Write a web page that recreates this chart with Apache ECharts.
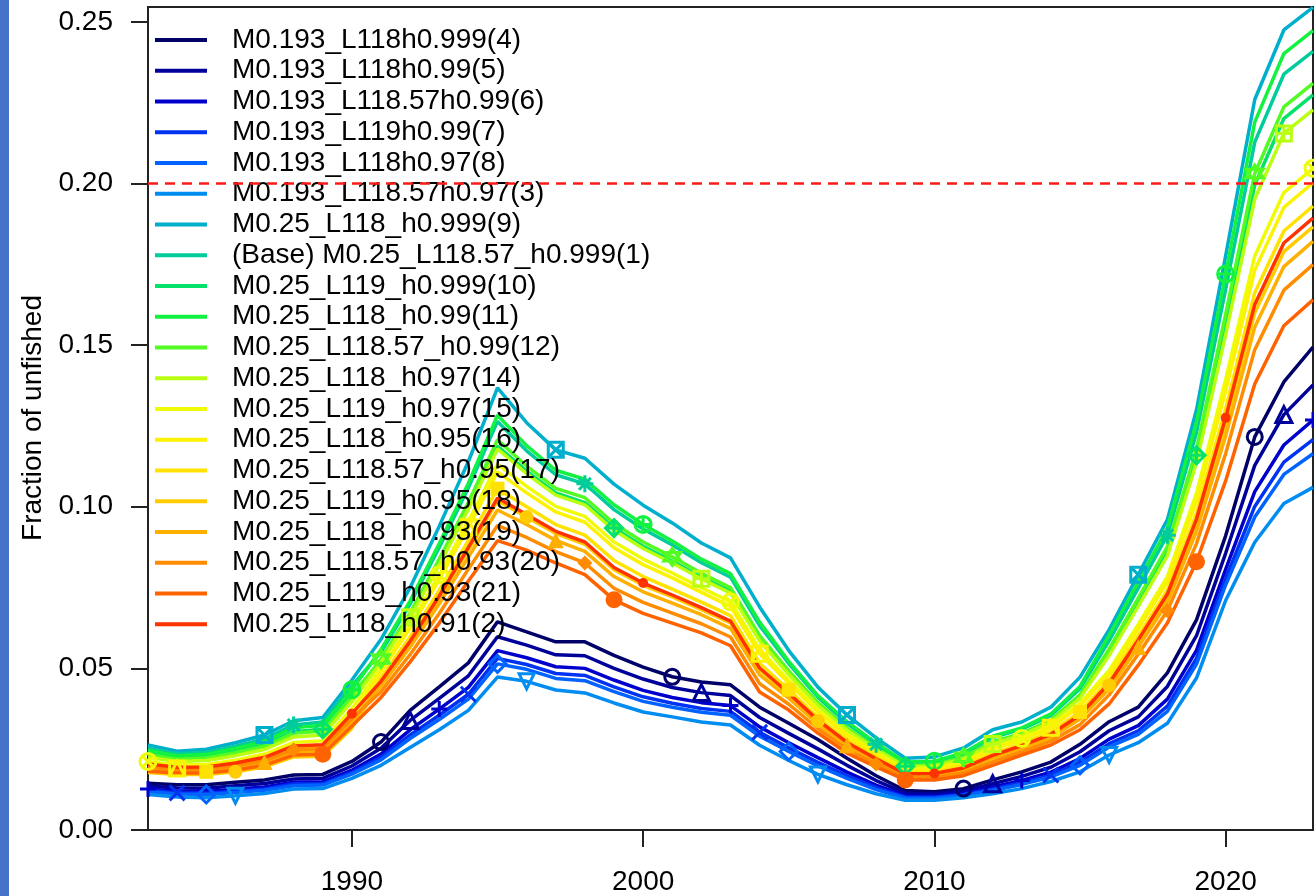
<!DOCTYPE html>
<html><head><meta charset="utf-8">
<script src="https://cdn.jsdelivr.net/npm/echarts@6/dist/echarts.min.js"></script>
<style>html,body{margin:0;padding:0;background:#fff;}#c{width:1314px;height:896px;}</style>
</head><body><div id="c"></div>
<script>
const years = [1983,1984,1985,1986,1987,1988,1989,1990,1991,1992,1993,1994,1995,1996,1997,1998,1999,2000,2001,2002,2003,2004,2005,2006,2007,2008,2009,2010,2011,2012,2013,2014,2015,2016,2017,2018,2019,2020,2021,2022,2023];

const run4 = [.0145,.0140,.0140,.0148,.0155,.0170,.0172,.0212,.0272,.0370,.0443,.0517,.0644,.0613,.0582,.0582,.0540,.0504,.0474,.0458,.0449,.0380,.0330,.0280,.0222,.0168,.0122,.0118,.0128,.0155,.0180,.0210,.0265,.0335,.0380,.0486,.0650,.0910,.1216,.1386,.1494];
const run5 = [.0136,.0130,.0129,.0137,.0144,.0158,.0160,.0198,.0253,.0339,.0407,.0477,.0598,.0572,.0542,.0539,.0500,.0467,.0441,.0425,.0416,.0348,.0299,.0251,.0200,.0153,.0114,.0111,.0120,.0143,.0166,.0194,.0242,.0307,.0350,.0444,.0601,.0856,.1128,.1285,.1377];
const run6 = [.0127,.0120,.0119,.0126,.0133,.0148,.0149,.0185,.0235,.0310,.0374,.0441,.0555,.0533,.0505,.0500,.0464,.0432,.0410,.0394,.0385,.0319,.0270,.0224,.0179,.0139,.0106,.0105,.0113,.0133,.0153,.0179,.0221,.0281,.0323,.0405,.0556,.0806,.1047,.1191,.1268];
const run7 = [.0122,.0115,.0114,.0120,.0127,.0142,.0143,.0178,.0225,.0294,.0355,.0420,.0531,.0512,.0484,.0478,.0443,.0412,.0392,.0376,.0367,.0302,.0254,.0209,.0168,.0131,.0102,.0101,.0110,.0127,.0146,.0170,.0209,.0267,.0307,.0383,.0531,.0778,.1001,.1138,.1208];
const run8 = [.0118,.0111,.0110,.0116,.0123,.0137,.0139,.0173,.0217,.0283,.0342,.0405,.0514,.0497,.0469,.0462,.0428,.0398,.0380,.0364,.0355,.0290,.0243,.0198,.0160,.0125,.0099,.0098,.0107,.0122,.0141,.0164,.0200,.0257,.0296,.0367,.0513,.0758,.0968,.1100,.1164];
const run3 = [.0110,.0102,.0100,.0106,.0113,.0127,.0128,.0160,.0200,.0255,.0310,.0370,.0473,.0460,.0433,.0424,.0393,.0365,.0350,.0334,.0325,.0262,.0215,.0172,.0140,.0112,.0092,.0092,.0100,.0112,.0128,.0150,.0180,.0232,.0270,.0330,.0470,.0710,.0890,.1010,.1060];
const run9 = [.0263,.0244,.0250,.0270,.0294,.0338,.0348,.0464,.0590,.0750,.0940,.1140,.1368,.1260,.1176,.1150,.1070,.1005,.0950,.0888,.0842,.0690,.0555,.0442,.0356,.0285,.0222,.0226,.0254,.0310,.0334,.0380,.0473,.0620,.0790,.0960,.1300,.1776,.2260,.2475,.2545];
const run1 = [.0253,.0235,.0241,.0259,.0282,.0325,.0334,.0446,.0550,.0699,.0874,.1059,.1264,.1173,.1099,.1071,.0991,.0931,.0882,.0827,.0782,.0632,.0515,.0411,.0330,.0265,.0207,.0210,.0235,.0286,.0312,.0354,.0437,.0586,.0748,.0912,.1230,.1672,.2128,.2338,.2409];
const run10 = [.0238,.0222,.0227,.0243,.0264,.0304,.0312,.0419,.0522,.0663,.0826,.0999,.1188,.1110,.1043,.1013,.0934,.0878,.0832,.0782,.0739,.0590,.0485,.0388,.0311,.0251,.0197,.0199,.0221,.0268,.0295,.0336,.0411,.0551,.0706,.0864,.1159,.1567,.1996,.2201,.2274];
const run11 = [.0246,.0230,.0234,.0252,.0274,.0316,.0324,.0434,.0558,.0709,.0886,.1073,.1283,.1189,.1113,.1085,.1006,.0945,.0894,.0838,.0793,.0643,.0522,.0416,.0335,.0269,.0210,.0213,.0239,.0290,.0316,.0359,.0444,.0602,.0768,.0934,.1262,.1720,.2190,.2402,.2473];
const run12 = [.0233,.0219,.0223,.0239,.0259,.0299,.0306,.0412,.0529,.0672,.0838,.1014,.1207,.1126,.1057,.1028,.0948,.0891,.0845,.0794,.0750,.0601,.0492,.0394,.0316,.0254,.0199,.0202,.0225,.0273,.0299,.0340,.0418,.0560,.0717,.0877,.1178,.1595,.2031,.2237,.2310];
const run14 = [.0225,.0212,.0215,.0230,.0249,.0288,.0294,.0397,.0518,.0658,.0820,.0992,.1179,.1102,.1036,.1006,.0927,.0871,.0826,.0777,.0733,.0585,.0481,.0385,.0309,.0249,.0195,.0198,.0220,.0266,.0293,.0333,.0408,.0540,.0692,.0848,.1136,.1532,.1952,.2155,.2228];
const run15 = [.0212,.0201,.0203,.0216,.0235,.0271,.0276,.0375,.0500,.0635,.0790,.0955,.1132,.1063,.1001,.0970,.0891,.0838,.0795,.0749,.0706,.0559,.0463,.0371,.0297,.0240,.0189,.0191,.0211,.0255,.0283,.0322,.0392,.0494,.0636,.0784,.1042,.1393,.1776,.1972,.2047];
const run16 = [.0199,.0190,.0192,.0203,.0220,.0254,.0258,.0352,.0491,.0624,.0775,.0937,.1108,.1043,.0984,.0952,.0873,.0821,.0780,.0735,.0692,.0545,.0454,.0364,.0291,.0236,.0185,.0187,.0207,.0250,.0278,.0316,.0383,.0482,.0622,.0768,.1018,.1358,.1732,.1926,.2002];
const run17 = [.0187,.0179,.0180,.0189,.0205,.0237,.0240,.0330,.0471,.0598,.0742,.0896,.1056,.1000,.0945,.0912,.0834,.0784,.0745,.0705,.0663,.0516,.0434,.0348,.0278,.0226,.0178,.0179,.0197,.0237,.0267,.0303,.0365,.0464,.0600,.0742,.0980,.1303,.1662,.1853,.1930];
const run18 = [.0178,.0172,.0172,.0180,.0195,.0226,.0228,.0315,.0457,.0580,.0718,.0866,.1018,.0968,.0917,.0884,.0805,.0757,.0721,.0682,.0641,.0495,.0419,.0337,.0269,.0218,.0172,.0174,.0190,.0229,.0259,.0293,.0352,.0448,.0580,.0720,.0948,.1254,.1600,.1789,.1866];
const run19 = [.0191,.0183,.0184,.0194,.0210,.0243,.0246,.0337,.0446,.0566,.0700,.0844,.0990,.0945,.0896,.0862,.0784,.0737,.0702,.0666,.0624,.0480,.0408,.0328,.0262,.0213,.0168,.0169,.0185,.0222,.0252,.0286,.0343,.0436,.0566,.0704,.0924,.1219,.1556,.1743,.1821];
const run20 = [.0195,.0186,.0188,.0198,.0215,.0248,.0252,.0345,.0428,.0543,.0670,.0807,.0942,.0905,.0861,.0826,.0748,.0704,.0671,.0638,.0597,.0453,.0389,.0314,.0250,.0204,.0162,.0162,.0177,.0211,.0242,.0275,.0326,.0418,.0544,.0678,.0886,.1164,.1486,.1670,.1749];
const run21 = [.0182,.0176,.0176,.0185,.0200,.0232,.0234,.0322,.0410,.0520,.0640,.0770,.0895,.0866,.0826,.0790,.0712,.0670,.0640,.0610,.0570,.0427,.0371,.0300,.0238,.0195,.0155,.0155,.0168,.0200,.0232,.0263,.0310,.0390,.0510,.0640,.0830,.1080,.1380,.1560,.1640];
const run2 = [.0204,.0194,.0195,.0207,.0225,.0260,.0264,.0360,.0460,.0584,.0724,.0874,.1027,.0976,.0924,.0891,.0812,.0764,.0727,.0688,.0646,.0501,.0423,.0340,.0271,.0220,.0174,.0175,.0192,.0231,.0261,.0296,.0356,.0454,.0588,.0730,.0962,.1275,.1626,.1816,.1893];

const seriesNames = [
 'M0.193_L118h0.999(4)','M0.193_L118h0.99(5)','M0.193_L118.57h0.99(6)','M0.193_L119h0.99(7)',
 'M0.193_L118h0.97(8)','M0.193_L118.57h0.97(3)','M0.25_L118_h0.999(9)','(Base) M0.25_L118.57_h0.999(1)',
 'M0.25_L119_h0.999(10)','M0.25_L118_h0.99(11)','M0.25_L118.57_h0.99(12)','M0.25_L118_h0.97(14)',
 'M0.25_L119_h0.97(15)','M0.25_L118_h0.95(16)','M0.25_L118.57_h0.95(17)','M0.25_L119_h0.95(18)',
 'M0.25_L118_h0.93(19)','M0.25_L118.57_h0.93(20)','M0.25_L119_h0.93(21)','M0.25_L118_h0.91(2)'];
const seriesData = [run4,run5,run6,run7,run8,run3,run9,run1,run10,run11,run12,run14,run15,run16,run17,run18,run19,run20,run21,run2];

const yTicks = [0, 0.05, 0.10, 0.15, 0.20, 0.25];
const xTicks = [1990, 2000, 2010, 2020];
const refLevel = 0.20;
const yTitle = 'Fraction of unfished';

// r4ss rich.colors.short palette (styling)
function richColorsShort(n){
  const out=[];
  for(let k=0;k<n;k++){
    const x = n===1?0:k/(n-1);
    const r = 1/(1+Math.exp(20-35*x));
    const g = Math.min(Math.max(0,-0.8+6*x-5*x*x),1);
    const b = Math.exp(-0.5*Math.pow((x-0.25)/0.15,2));
    const h=v=>Math.round(v*255).toString(16).padStart(2,'0');
    out.push('#'+h(r)+h(g)+h(b));
  }
  return out;
}
const cols = richColorsShort(21).slice(1);

const P = {
 plus:'path://M5,0L5,10M0,5L10,5',
 cross:'path://M0,0L10,10M10,0L0,10',
 invtri:'path://M0,0L10,0L5,8.66Z',
 sqx:'path://M0,0L10,0L10,10L0,10ZM0,0L10,10M10,0L0,10',
 ast:'path://M5,0L5,10M0,5L10,5M1.5,1.5L8.5,8.5M8.5,1.5L1.5,8.5',
 dplus:'path://M5,0L10,5L5,10L0,5ZM5,0L5,10M0,5L10,5',
 cplus:'path://M0,5A5,5,0,1,1,10,5A5,5,0,1,1,0,5ZM5,0L5,10M0,5L10,5',
 david:'path://M5,0L9.33,7.5L0.67,7.5ZM5,10L0.67,2.5L9.33,2.5Z',
 splus:'path://M0,0L10,0L10,10L0,10ZM5,0L5,10M0,5L10,5',
 cx:'path://M0,5A5,5,0,1,1,10,5A5,5,0,1,1,0,5ZM1.5,1.5L8.5,8.5M8.5,1.5L1.5,8.5',
 sqtri:'path://M0,0L10,0L10,10L0,10ZM0,10L5,0L10,10'
};
const pch = ['circle','triangle',P.plus,P.cross,'diamond',P.invtri,P.sqx,P.ast,P.dplus,P.cplus,P.david,P.splus,P.cx,P.sqtri,
             'rect','circle','triangle','diamond','circle','circle'];
const pchSize = [15,16,16,15,17,15,15,17,17,16,17,15,16,15,14,14,16,15,17,10];
const FONT = "'Liberation Sans', Arial, Helvetica, sans-serif";

const series = seriesData.map((arr,i)=>{
  const hollow = i < 14;
  const sym = pch[i], sz = pchSize[i], idx = i+1;
  const isMark = v => ((Math.round(v[0]) - 1990 - idx) % 10 + 10) % 10 === 0;
  return {
    name: seriesNames[i], type:'line',
    data: years.map((y,k)=>[y, arr[k]]),
    lineStyle:{color:cols[i], width:3.5},
    itemStyle: hollow ? {color:'rgba(255,255,255,0)', borderColor:cols[i], borderWidth:3}
                      : {color:cols[i], borderWidth:0},
    symbol: (v)=> isMark(v) ? sym : 'none',
    symbolSize: (v)=> isMark(v) ? sz : 0,
    showSymbol:true, showAllSymbol:true,
    emphasis:{disabled:true}, silent:true, animation:false
  };
});
series.push({
  name:'ref', type:'line', data:[[1983,refLevel],[2023,refLevel]],
  symbol:'none', lineStyle:{color:'#ff1a1a', width:2.5, type:[10,7]},
  silent:true, animation:false, z:5
});

const chart = echarts.init(document.getElementById('c'), null, {renderer:'canvas'});
chart.setOption({
  animation:false,
  backgroundColor:'#ffffff',
  grid:{left:148, right:1, top:7, bottom:66, show:true, borderColor:'#222', borderWidth:2, containLabel:false, outerBoundsMode:'none'},
  xAxis:{type:'value', min:1983, max:2023,
    axisLine:{show:true, onZero:false, lineStyle:{color:'#222', width:2}},
    axisTick:{show:true, length:17, lineStyle:{color:'#222', width:2}, customValues:xTicks},
    axisLabel:{show:true, customValues:xTicks, fontSize:28, fontFamily:FONT, color:'#000', margin:38, formatter:v=>String(v)},
    splitLine:{show:false}},
  yAxis:{type:'value', min:0, max:0.2546,
    axisLine:{show:true, onZero:false, lineStyle:{color:'#222', width:2}},
    axisTick:{show:true, length:17, lineStyle:{color:'#222', width:2}, customValues:yTicks},
    axisLabel:{show:true, customValues:yTicks, fontSize:28, fontFamily:FONT, color:'#000', margin:35, formatter:v=>v.toFixed(2)},
    splitLine:{show:false}},
  legend:{orient:'vertical', left:155, top:26, padding:0, itemWidth:52, itemHeight:4, itemGap:2.75, icon:'rect',
    selectedMode:false,
    textStyle:{fontSize:28, fontFamily:FONT, color:'#000', lineHeight:28, padding:[0,0,0,20]},
    data: seriesNames.map((n,i)=>({name:n, itemStyle:{color:cols[i], borderWidth:0}}))},
  graphic:[
    {type:'rect', left:0, top:0, shape:{width:9, height:896}, style:{fill:'#4673c8'}},
    {type:'text', x:33, y:418, rotation:Math.PI/2, style:{text:yTitle, fontSize:28, fontFamily:FONT, fill:'#000', align:'center', verticalAlign:'middle'}}
  ],
  series: series
});
</script></body></html>
